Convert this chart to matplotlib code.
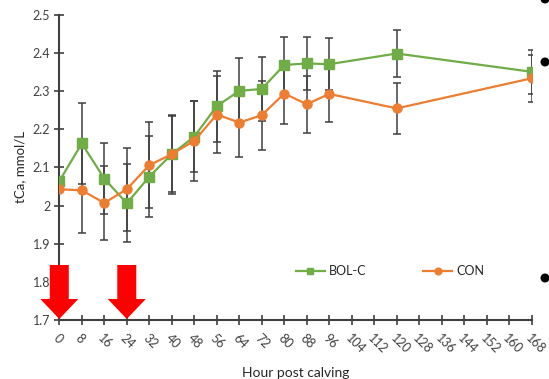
import matplotlib
matplotlib.use("Agg")
import matplotlib.pyplot as plt
from matplotlib.patches import Polygon, Ellipse

# Hours after calving at which blood was sampled
hours = [0, 8, 16, 24, 32, 40, 48, 56, 64, 72, 80, 88, 96, 120, 168]

# Total calcium (mmol/L), mean and error per treatment group
bolc_mean = [2.064, 2.163, 2.071, 2.006, 2.076, 2.135, 2.181, 2.261, 2.301, 2.306,
             2.369, 2.373, 2.371, 2.399, 2.351]
bolc_err = [0.0, 0.107, 0.094, 0.102, 0.106, 0.100, 0.094, 0.093, 0.086, 0.085,
            0.074, 0.070, 0.068, 0.062, 0.057]
con_mean = [2.043, 2.040, 2.007, 2.043, 2.106, 2.135, 2.170, 2.239, 2.218, 2.237,
            2.294, 2.266, 2.293, 2.255, 2.334]
con_err = [0.0, 0.113, 0.097, 0.109, 0.113, 0.104, 0.105, 0.100, 0.091, 0.090,
           0.080, 0.075, 0.073, 0.067, 0.062]

series_labels = ["BOL-C", "CON"]
x_ticks = list(range(0, 169, 8))
y_ticks = [1.7, 1.8, 1.9, 2.0, 2.1, 2.2, 2.3, 2.4, 2.5]
y_tick_labels = ["1.7", "1.8", "1.9", "2", "2.1", "2.2", "2.3", "2.4", "2.5"]
arrow_hours = [0, 24]

GREEN = "#70AD47"
ORANGE = "#ED7D31"
AXIS = "#3F3F3F"

plt.rcParams["font.family"] = ["Lato", "DejaVu Sans"]

fig = plt.figure(figsize=(5.49, 3.79), dpi=100)
ax = fig.add_axes([0.108, 0.1557, 0.8605, 0.8047])

eb_bolc = ax.errorbar(hours, bolc_mean, yerr=bolc_err, color=GREEN, marker="s",
                      markersize=6.5, linewidth=1.6, ecolor=AXIS, elinewidth=1.1,
                      capsize=3, capthick=1.1, zorder=3)
eb_con = ax.errorbar(hours, con_mean, yerr=con_err, color=ORANGE, marker="o",
                     markersize=6.5, linewidth=1.6, ecolor=AXIS, elinewidth=1.1,
                     capsize=3, capthick=1.1, zorder=3)

ax.set_xlim(0, 168)
ax.set_ylim(1.7, 2.5)
ax.set_xticks(x_ticks)
ax.set_xticklabels([str(h) for h in x_ticks], rotation=-45, ha="left",
                   va="top", rotation_mode="anchor", fontsize=9, color="#404040")
ax.set_yticks(y_ticks)
ax.set_yticklabels(y_tick_labels, fontsize=9, color="#404040")
ax.tick_params(axis="both", direction="inout", length=7, width=1.2, color=AXIS)
ax.tick_params(axis="x", pad=5)
ax.tick_params(axis="y", pad=3)

for side in ("top", "right"):
    ax.spines[side].set_visible(False)
for side in ("left", "bottom"):
    ax.spines[side].set_color(AXIS)
    ax.spines[side].set_linewidth(1.5)

ax.set_ylabel("tCa, mmol/L", fontsize=9.5, color="#262626", labelpad=5)
ax.set_xlabel("Hour post calving", fontsize=10, color="#262626", labelpad=8)

# Legend shows only the line and marker of each series
leg = ax.legend([eb_bolc[0], eb_con[0]], series_labels, ncol=2, frameon=False,
                fontsize=9, loc="center", bbox_to_anchor=(0.70, 0.16),
                handlelength=2.3, handletextpad=0.3, columnspacing=4.6,
                markerscale=0.75)
for t in leg.get_texts():
    t.set_color("#262626")

# Red downward arrows marking the dosing times
for h in arrow_hours:
    tip_x, tip_y = ax.transData.transform([(h, 1.7)])[0]
    shaft_half, head_half = 9.5, 19
    head_len, shaft_len = 21, 34
    pts_px = [
        (tip_x - shaft_half, tip_y + head_len + shaft_len),
        (tip_x + shaft_half, tip_y + head_len + shaft_len),
        (tip_x + shaft_half, tip_y + head_len),
        (tip_x + head_half, tip_y + head_len),
        (tip_x, tip_y + 1),
        (tip_x - head_half, tip_y + head_len),
        (tip_x - shaft_half, tip_y + head_len),
    ]
    pts = fig.transFigure.inverted().transform(pts_px)
    fig.patches.append(Polygon(pts, closed=True, facecolor="#FF0000",
                               edgecolor="none", transform=fig.transFigure,
                               zorder=10))

# Bullet marks along the right edge of the slide
for yy in [-1, 62, 278]:
    fig.patches.append(Ellipse((545 / 549, 1 - yy / 379), 9 / 549, 9 / 379,
                               facecolor="black", edgecolor="none",
                               transform=fig.transFigure))

fig.savefig("out.png", dpi=100)
